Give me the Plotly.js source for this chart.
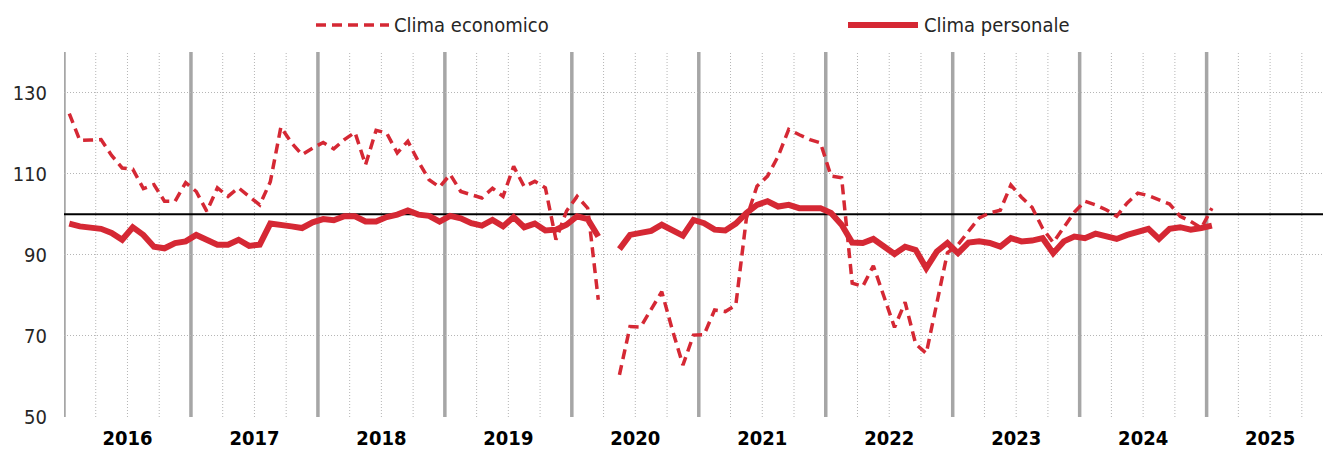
<!DOCTYPE html>
<html>
<head>
<meta charset="utf-8">
<script src="https://cdn.plot.ly/plotly-3.0.1.min.js"></script>
<style>html,body{margin:0;padding:0;background:#fff;}#chart{width:1323px;height:452px;}</style>
</head>
<body>
<div id="chart"></div>
<script>
// Years on the x axis (monthly data, Jan 2016 – Jan 2025; Apr 2020 missing)
const years = ['2016','2017','2018','2019','2020','2021','2022','2023','2024','2025'];
const seriesNames = ['Clima economico', 'Clima personale'];
const yTicks = [50, 70, 90, 110, 130];

const climaEconomico = [
  124.8, 118.2, 118.3, 118.4, 114.5, 111.4, 111.1, 106.3, 107.3, 103.2, 103.2, 107.8,
  105.6, 100.7, 106.5, 104.4, 106.5, 104.4, 102.3, 108.0, 121.5, 117.6, 114.7, 116.3,
  117.7, 116.1, 118.4, 120.2, 112.2, 120.7, 120.0, 115.1, 118.0, 113.0, 108.5, 106.7,
  109.8, 105.6, 104.8, 104.0, 106.4, 104.4, 111.8, 106.8, 108.1, 106.5, 93.7, 100.8,
  104.4, 101.5, 78.9, null, 60.4, 72.3, 72.2, 76.7, 80.9, 71.5, 62.8, 70.2,
  70.3, 76.4, 76.0, 77.6, 99.0, 106.9, 109.4, 114.3, 120.9, 119.6, 118.4, 117.6,
  109.4, 109.0, 83.0, 82.2, 87.3, 79.7, 72.1, 78.3, 68.0, 65.7, 77.8, 90.5,
  92.5, 95.8, 99.1, 100.3, 101.0, 107.2, 104.2, 101.7, 96.5, 93.0, 96.6, 100.5,
  103.2, 102.3, 101.1, 99.5, 102.8, 105.2, 104.6, 103.5, 102.5, 99.5, 98.2, 96.6,
  101.5
];
const climaPersonale = [
  97.7, 97.0, 96.7, 96.4, 95.4, 93.7, 96.8, 94.9, 92.0, 91.6, 92.9, 93.3,
  94.9, 93.5, 92.5, 92.5, 93.7, 92.2, 92.5, 97.7, 97.2, 97.0, 96.6, 98.0,
  98.8, 98.5, 99.5, 99.5, 98.2, 98.2, 99.3, 99.9, 100.9, 99.9, 99.6, 98.2,
  99.6, 99.0, 97.8, 97.2, 98.6, 97.0, 99.3, 96.8, 97.7, 96.0, 96.2, 97.4,
  99.5, 98.8, 94.5, null, 91.4, 94.9, 95.4, 95.9, 97.4, 96.2, 94.7, 98.6,
  97.8, 96.2, 96.0, 97.7, 100.3, 102.3, 103.2, 101.9, 102.3, 101.5, 101.4, 101.5,
  100.3, 97.4, 93.0, 92.9, 93.9, 92.0, 90.2, 92.0, 91.2, 86.7, 90.8, 92.9,
  90.4, 93.0, 93.3, 92.9, 92.0, 94.1, 93.3, 93.5, 94.1, 90.4, 93.3, 94.5,
  94.1, 95.2, 94.5, 93.9, 94.9, 95.8, 96.4, 93.9, 96.4, 96.8, 96.2, 96.6,
  97.2
];

const RED = 'rgb(213,40,52)';
const FONT = '"Liberation Sans Narrow", "Arial Narrow", "DejaVu Sans Condensed", Arial, sans-serif';

// month index -> centred position inside the month
const xEco = climaEconomico.map((_, i) => i + 0.5);
const xPer = climaPersonale.map((_, i) => i + 0.5);

const traces = [
  {x: xEco, y: climaEconomico, name: seriesNames[0], type: 'scatter', mode: 'lines',
   line: {color: RED, width: 3.5, dash: '10px,6px'}, connectgaps: false, showlegend: false},
  {x: xPer, y: climaPersonale, name: seriesNames[1], type: 'scatter', mode: 'lines',
   line: {color: RED, width: 6}, connectgaps: false, showlegend: false}
];

const GRID = '#b5b5b5';
const DOT = '1px,2px';
const nMonths = years.length * 12;
const shapes = [];
// quarterly dotted grid
for (let q = 3; q < nMonths; q += 3) {
  if (q % 12 === 0) continue;
  shapes.push({type: 'line', xref: 'x', yref: 'paper', x0: q, x1: q, y0: 0, y1: 1,
    line: {color: GRID, width: 1, dash: DOT}, layer: 'below'});
}
// year separators
for (let k = 0; k < years.length; k++) {
  shapes.push({type: 'line', xref: 'x', yref: 'paper', x0: k * 12, x1: k * 12, y0: 0, y1: 1,
    line: {color: '#a6a6a6', width: 3.5}, layer: 'below'});
}
// reference line at 100
shapes.push({type: 'line', xref: 'paper', yref: 'y', x0: 0, x1: 1, y0: 100, y1: 100,
  line: {color: '#000', width: 2}, layer: 'below'});

// manual legend
const W = 1259, H = 365;
const px = v => (v - 64) / W;
const py = v => (417 - v) / H;
shapes.push({type: 'line', xref: 'paper', yref: 'paper', x0: px(316), x1: px(389), y0: py(25), y1: py(25),
  line: {color: RED, width: 3.5, dash: '10px,6px'}});
shapes.push({type: 'line', xref: 'paper', yref: 'paper', x0: px(848), x1: px(918), y0: py(25), y1: py(25),
  line: {color: RED, width: 6}});
const annotations = [
  {xref: 'paper', yref: 'paper', x: px(392), y: py(25), xanchor: 'left', yanchor: 'middle',
   text: seriesNames[0], showarrow: false, font: {family: FONT, size: 20, color: '#262626'}},
  {xref: 'paper', yref: 'paper', x: px(922), y: py(25), xanchor: 'left', yanchor: 'middle',
   text: seriesNames[1], showarrow: false, font: {family: FONT, size: 20, color: '#262626'}}
];

const layout = {
  width: 1323, height: 452,
  margin: {l: 64, r: 0, t: 52, b: 35, pad: 0},
  paper_bgcolor: '#fff', plot_bgcolor: '#fff',
  font: {family: FONT, color: '#262626'},
  showlegend: false,
  xaxis: {
    range: [0, 119], showgrid: false, zeroline: false, showline: false,
    tickmode: 'array', tickvals: years.map((_, k) => k * 12 + 6), ticktext: years,
    ticks: '', ticklabelstandoff: 7,
    tickfont: {family: FONT, size: 20, color: '#000', weight: 'bold'}
  },
  yaxis: {
    range: [50, 140], tickmode: 'array', tickvals: yTicks,
    showgrid: true, gridcolor: GRID, griddash: DOT, gridwidth: 1,
    zeroline: false, showline: false, ticks: '', ticklabelstandoff: 16,
    tickfont: {family: FONT, size: 20, color: '#262626'}
  },
  shapes: shapes,
  annotations: annotations
};

Plotly.newPlot('chart', traces, layout, {displayModeBar: false, staticPlot: true});
</script>
</body>
</html>
